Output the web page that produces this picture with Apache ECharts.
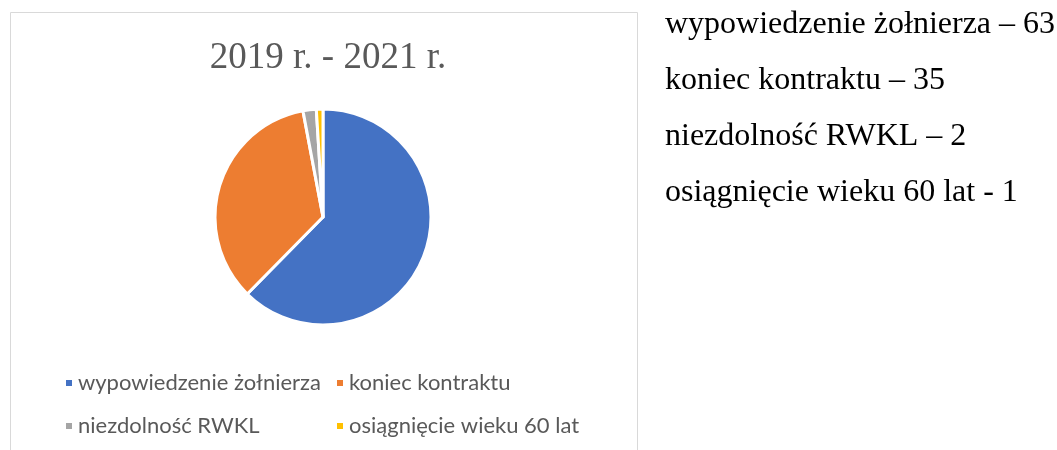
<!DOCTYPE html>
<html>
<head>
<meta charset="utf-8">
<style>
  html, body { margin: 0; padding: 0; background: #fff; }
  #chart { width: 1057px; height: 450px; }
</style>
<script src="https://cdn.jsdelivr.net/npm/echarts@6/dist/echarts.min.js"></script>
</head>
<body>
<div id="chart"></div>
<script>
// dane z wykresu
const categories = ['wypowiedzenie żołnierza', 'koniec kontraktu', 'niezdolność RWKL', 'osiągnięcie wieku 60 lat'];
const values = [63, 35, 2, 1];
const separators = ['–', '–', '–', '-'];
const colors = ['#4472C4', '#ED7D31', '#A5A5A5', '#FFC000'];
const chartTitle = '2019 r. - 2021 r.';

const myChart = echarts.init(document.getElementById('chart'));

const pieData = categories.map((name, i) => ({ name: name, value: values[i] }));
const sideText = categories.map((name, i) => name + ' ' + separators[i] + ' ' + values[i]).join('\n');

const legendText = {
  color: '#595959',
  fontSize: 22,
  fontFamily: 'Lato'
};

const option = {
  color: colors,
  animation: false,
  title: [
    {
      text: chartTitle,
      left: 323,
      top: 35,
      textAlign: 'center',
      textStyle: {
        fontFamily: 'Liberation Serif',
        fontWeight: 'normal',
        fontSize: 37,
        color: '#595959'
      }
    },
    {
      text: sideText,
      left: 660,
      top: -8,
      textStyle: {
        fontFamily: 'Liberation Serif',
        fontWeight: 'normal',
        fontSize: 32,
        lineHeight: 56,
        color: '#000'
      }
    }
  ],
  graphic: [
    {
      type: 'rect',
      shape: { x: 10.5, y: 12.5, width: 627, height: 460 },
      style: { fill: 'none', stroke: '#d9d9d9', lineWidth: 1 },
      silent: true
    }
  ],
  legend: [
    {
      left: 59,
      top: 367,
      orient: 'vertical',
      itemWidth: 8,
      itemHeight: 8,
      itemGap: 21,
      icon: 'rect',
      data: [categories[0], categories[2]],
      textStyle: legendText
    },
    {
      left: 330,
      top: 367,
      orient: 'vertical',
      itemWidth: 8,
      itemHeight: 8,
      itemGap: 21,
      icon: 'rect',
      data: [categories[1], categories[3]],
      textStyle: legendText
    }
  ],
  series: [
    {
      type: 'pie',
      center: [323, 217],
      radius: 108,
      startAngle: 90,
      clockwise: true,
      label: { show: false },
      labelLine: { show: false },
      emphasis: { disabled: true },
      itemStyle: { borderColor: '#fff', borderWidth: 3 },
      data: pieData
    }
  ]
};

myChart.setOption(option);
</script>
</body>
</html>
